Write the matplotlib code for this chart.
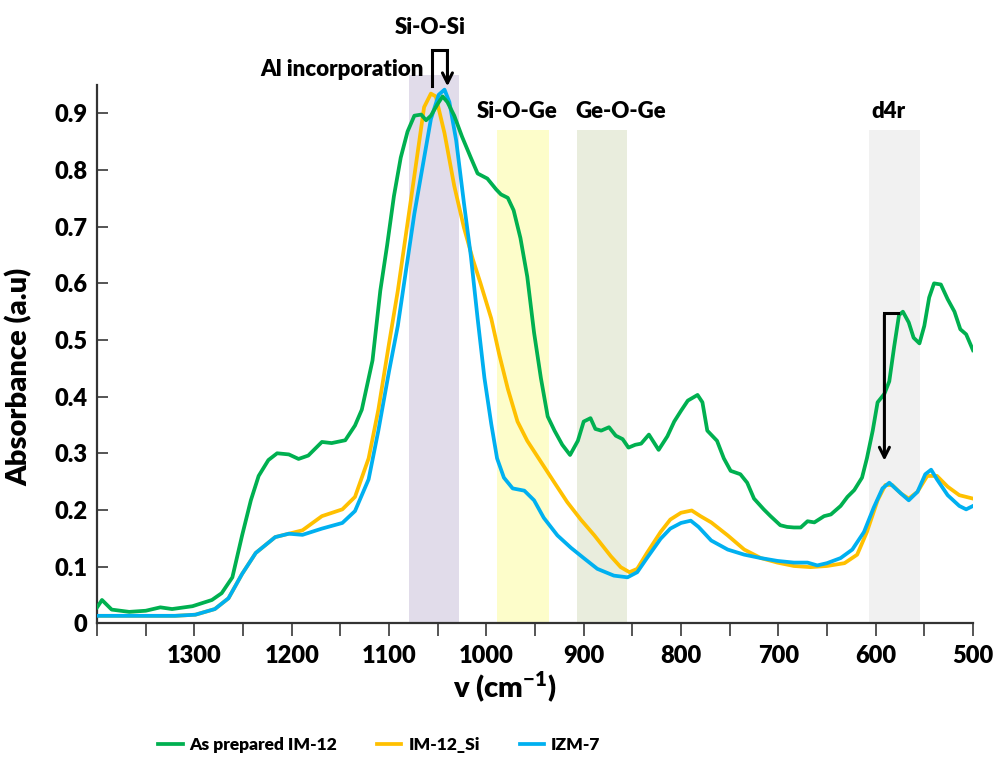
import matplotlib
matplotlib.use("Agg")
import matplotlib.pyplot as plt
import numpy as np

plt.rcParams['font.family'] = ['Lato', 'DejaVu Sans']
plt.rcParams['font.weight'] = 'heavy'
plt.rcParams['axes.labelweight'] = 'heavy'
plt.rcParams['mathtext.fontset'] = 'custom'
plt.rcParams['mathtext.rm'] = 'Lato:heavy'
plt.rcParams['mathtext.bf'] = 'Lato:heavy'

# ---- data (wavenumber cm-1, absorbance) ----
wn_green = [1400, 1395, 1385, 1367, 1350, 1335, 1323, 1302, 1282, 1272, 1261, 1251,
            1242, 1234, 1224, 1215, 1203, 1193, 1183, 1169, 1159, 1145, 1135, 1128,
            1117, 1109, 1102, 1095, 1088, 1081, 1074, 1067, 1062, 1057, 1050, 1045,
            1040, 1033, 1025, 1016, 1009, 999, 990, 985, 978, 972, 965, 958, 951,
            944, 937, 930, 922, 914, 906, 900, 893, 888, 882, 874, 867, 860, 854,
            847, 841, 833, 823, 814, 807, 800, 793, 787, 783, 778, 773, 768, 763,
            756, 749, 739, 732, 725, 715, 708, 698, 691, 684, 677, 670, 663, 653,
            646, 636, 629, 622, 614, 609, 603, 598, 591, 586, 581, 576, 572, 566,
            561, 555, 550, 545, 540, 533, 526, 519, 513, 507, 500]
ab_green = [0.028, 0.041, 0.024, 0.020, 0.022, 0.028, 0.025, 0.030, 0.041, 0.053, 0.081, 0.155,
            0.217, 0.260, 0.288, 0.300, 0.298, 0.290, 0.296, 0.320, 0.318, 0.323, 0.349, 0.377,
            0.464, 0.587, 0.667, 0.754, 0.822, 0.868, 0.896, 0.898, 0.888, 0.896, 0.917, 0.930,
            0.920, 0.896, 0.859, 0.822, 0.794, 0.785, 0.766, 0.757, 0.751, 0.729, 0.680, 0.612, 0.513,
            0.433, 0.365, 0.340, 0.315, 0.297, 0.322, 0.356, 0.362, 0.343, 0.340, 0.346, 0.331, 0.325, 0.310,
            0.315, 0.317, 0.333, 0.306, 0.330, 0.356, 0.375, 0.393, 0.399, 0.403, 0.390, 0.340, 0.331, 0.322,
            0.291, 0.269, 0.263, 0.248, 0.220, 0.201, 0.189, 0.173, 0.170, 0.169, 0.169, 0.180, 0.178, 0.189,
            0.192, 0.207, 0.223, 0.235, 0.257, 0.291, 0.340, 0.390, 0.405, 0.427, 0.488, 0.544, 0.550, 0.531,
            0.504, 0.494, 0.525, 0.575, 0.600, 0.598, 0.572, 0.550, 0.519, 0.510, 0.482]

wn_yellow = [1400, 1320, 1299, 1279, 1265, 1251, 1237, 1217, 1203, 1189, 1169, 1148, 1135,
             1121, 1111, 1100, 1091, 1074, 1064, 1057, 1052, 1043, 1033, 1023, 1014, 1006,
             995, 987, 978, 968, 958, 944, 930, 917, 903, 889, 872, 862, 853, 845, 835,
             821, 811, 800, 789, 780, 769, 752, 735, 718, 701, 684, 667, 650, 632, 619,
             609, 598, 590, 583, 574, 566, 557, 547, 537, 526, 514, 500]
ab_yellow = [0.013, 0.013, 0.015, 0.025, 0.044, 0.087, 0.124, 0.152, 0.158, 0.164, 0.189, 0.201, 0.223,
             0.291, 0.377, 0.494, 0.587, 0.790, 0.911, 0.935, 0.930, 0.865, 0.772, 0.698, 0.643, 0.600,
             0.538, 0.476, 0.414, 0.356, 0.322, 0.285, 0.248, 0.214, 0.183, 0.155, 0.118, 0.099, 0.090, 0.096, 0.124,
             0.161, 0.183, 0.195, 0.199, 0.189, 0.178, 0.155, 0.130, 0.115, 0.107, 0.101, 0.099, 0.101, 0.106, 0.121,
             0.161, 0.217, 0.244, 0.244, 0.229, 0.220, 0.232, 0.260, 0.260, 0.241, 0.226, 0.220]

wn_blue = [1400, 1320, 1299, 1279, 1265, 1251, 1237, 1217, 1203, 1189, 1169, 1148, 1135,
           1121, 1111, 1100, 1091, 1074, 1057, 1049, 1043, 1038, 1031, 1023, 1016, 1009,
           1002, 995, 989, 982, 973, 961, 951, 941, 927, 913, 900, 886, 869, 855, 845,
           835, 821, 811, 800, 790, 782, 769, 752, 735, 718, 701, 684, 670, 660, 650,
           636, 624, 612, 602, 593, 586, 574, 566, 557, 549, 543, 537, 526, 514, 507, 500]
ab_blue = [0.013, 0.013, 0.015, 0.025, 0.044, 0.087, 0.124, 0.152, 0.158, 0.156, 0.167, 0.177, 0.198,
           0.254, 0.340, 0.445, 0.525, 0.723, 0.890, 0.933, 0.942, 0.920, 0.852, 0.741, 0.649, 0.538,
           0.433, 0.352, 0.291, 0.257, 0.238, 0.234, 0.217, 0.186, 0.155, 0.133, 0.115, 0.096, 0.084, 0.081, 0.090,
           0.115, 0.149, 0.167, 0.177, 0.181, 0.170, 0.146, 0.130, 0.121, 0.115, 0.110, 0.107, 0.107, 0.102, 0.106,
           0.115, 0.130, 0.161, 0.204, 0.238, 0.248, 0.229, 0.217, 0.232, 0.263, 0.271, 0.254, 0.226, 0.207, 0.201, 0.207]

labels = ['As prepared IM-12', 'IM-12_Si', 'IZM-7']
colors = ['#00B050', '#FFC000', '#00B0F0']

# shaded bands
band_lo = [1080, 989, 907, 607]
band_hi = [1028, 936, 855, 554]
band_top = [0.968, 0.87, 0.87, 0.87]
band_col = ['#e1dcea', '#fdfdca', '#e9eddd', '#f1f1f1']

fig = plt.figure(figsize=(10.01, 7.6), dpi=100)
ax = fig.add_axes([0.097, 0.180, 0.875, 0.708])

for lo, hi, top, c in zip(band_lo, band_hi, band_top, band_col):
    ax.fill_between([lo, hi], 0, top, color=c, lw=0, zorder=0, clip_on=False)

l1, = ax.plot(wn_green, ab_green, color=colors[0], lw=2.7, zorder=4, label=labels[0], solid_joinstyle='round')
l2, = ax.plot(wn_yellow, ab_yellow, color=colors[1], lw=2.7, zorder=2, label=labels[1], solid_joinstyle='round')
l3, = ax.plot(wn_blue, ab_blue, color=colors[2], lw=2.7, zorder=3, label=labels[2], solid_joinstyle='round')

ax.set_xlim(1400, 500)
ax.set_ylim(0, 0.95)

ax.set_xticks(np.arange(500, 1401, 50))
ax.set_xticklabels([str(v) if (v % 100 == 0 and v != 1400) else '' for v in np.arange(500, 1401, 50)])
ax.set_yticks(np.arange(0, 0.91, 0.1))
ax.set_yticklabels(['0'] + ['%.1f' % v for v in np.arange(0.1, 0.91, 0.1)])

for s in ['top', 'right']:
    ax.spines[s].set_visible(False)
for s in ['left', 'bottom']:
    ax.spines[s].set_linewidth(1.6)
    ax.spines[s].set_color('#333333')
ax.tick_params(axis='y', direction='in', length=8, width=1.4, color='#555555', pad=7, labelsize=17)
ax.tick_params(axis='x', direction='out', length=9, width=1.4, color='#555555', pad=7, labelsize=17)

ax.set_ylabel('Absorbance (a.u)', fontsize=21, fontweight='heavy')
ax.yaxis.set_label_coords(-0.074, 0.457)
fig.text(0.504, 0.095, r'v (cm$^{-1}$)', fontsize=21, ha='center', va='center')

# annotations
ax.text(1058, 1.051, 'Si-O-Si', fontsize=16, ha='center', va='center', clip_on=False)
ax.text(1064, 0.977, 'Al incorporation', fontsize=16, ha='right', va='center', clip_on=False)
ax.text(968, 0.903, 'Si-O-Ge', fontsize=16, ha='center', va='center')
ax.text(862, 0.903, 'Ge-O-Ge', fontsize=16, ha='center', va='center')
ax.text(587, 0.903, 'd4r', fontsize=16, ha='center', va='center')

ax.plot([1056, 1056, 1040], [0.949, 1.012, 1.012], color='black', lw=2.2, clip_on=False, zorder=6,
        solid_joinstyle='miter')
ax.annotate('', xy=(1040, 0.943), xytext=(1040, 1.014),
            arrowprops=dict(arrowstyle='->', lw=2.2, color='black', mutation_scale=18), annotation_clip=False)

ax.plot([577, 591], [0.547, 0.547], color='black', lw=2.2, zorder=6)
ax.annotate('', xy=(591, 0.282), xytext=(591, 0.549),
            arrowprops=dict(arrowstyle='->', lw=2.2, color='black', mutation_scale=18), zorder=6)

fig.legend(handles=[l1, l2, l3], loc='center', bbox_to_anchor=(0.379, 0.02), ncol=3,
           frameon=False, fontsize=12.5, handlelength=1.4, columnspacing=2.3, handletextpad=0.4)

fig.savefig('out.png', dpi=100)
